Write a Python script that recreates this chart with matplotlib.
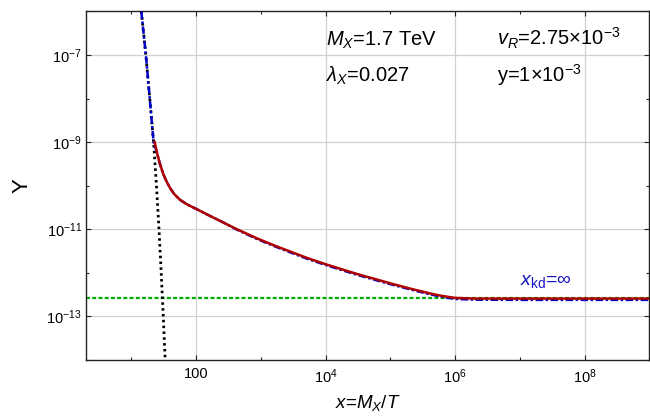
import math
import matplotlib
matplotlib.use('Agg')
import matplotlib.pyplot as plt
from matplotlib.ticker import FixedLocator, FuncFormatter, NullFormatter

plt.rcParams['font.family'] = ['Liberation Sans', 'DejaVu Sans']
plt.rcParams['mathtext.fontset'] = 'custom'
plt.rcParams['mathtext.rm'] = 'Liberation Sans'
plt.rcParams['mathtext.it'] = 'Liberation Sans:italic'
plt.rcParams['mathtext.bf'] = 'Liberation Sans:bold'

# equilibrium abundance (black dotted)
x_eq = [14.3, 16.8, 19.3, 22.1, 24.5, 26.8, 29.0, 31.2, 33.4]
Y_eq = [1e-6, 1e-7, 1e-8, 1e-9, 1e-10, 1e-11, 1e-12, 1e-13, 1e-14]

# full solution (red), starting after freeze-out
x_full = [23, 25, 27.5, 31, 35, 40, 46, 56, 71, 80, 100, 158, 257, 417, 851,
          1585, 2818, 5012, 1e4, 3e4, 1e5, 2e5, 4e5, 6.3e5, 1e6, 2e6, 1e7, 1e8, 1e9]
Y_full = [1.0e-9, 5.6e-10, 3.3e-10, 1.9e-10, 1.26e-10, 8.7e-11, 6.45e-11, 4.8e-11,
          3.8e-11, 3.47e-11, 2.95e-11, 2.09e-11, 1.46e-11, 1.02e-11, 6.3e-12,
          4.3e-12, 3.1e-12, 2.24e-12, 1.58e-12, 9.5e-13, 5.75e-13, 4.37e-13, 3.4e-13,
          2.95e-13, 2.66e-13, 2.57e-13, 2.57e-13, 2.57e-13, 2.57e-13]

# x_kd = infinity solution (blue dash-dot)
x_kd_inf = [14.3, 16.8, 19.3, 22.1, 23, 25, 27.5, 31, 35, 40, 46, 56, 71, 80, 100,
            158, 257, 417, 851, 1585, 2818, 5012, 1e4, 3e4, 1e5, 2e5, 4e5, 6.3e5,
            1e6, 2e6, 1e7, 1e8, 1e9]
Y_kd_inf = [1e-6, 1e-7, 1e-8, 1e-9, 8.5e-10, 5.6e-10, 3.3e-10, 1.9e-10, 1.26e-10,
            8.7e-11, 6.45e-11, 4.8e-11, 3.8e-11, 3.47e-11, 2.95e-11, 2.09e-11,
            1.46e-11, 1.0e-11, 6.1e-12, 4.15e-12, 2.98e-12, 2.15e-12, 1.52e-12,
            9.1e-13, 5.5e-13, 4.2e-13, 3.25e-13, 2.8e-13, 2.52e-13, 2.42e-13,
            2.4e-13, 2.4e-13, 2.4e-13]

# observed relic abundance (green)
Y_obs = 2.63e-13

x_major = [1e2, 1e4, 1e6, 1e8]
x_minor = [1e1, 1e3, 1e5, 1e7]
y_major = [1e-7, 1e-9, 1e-11, 1e-13]
y_minor = [1e-6, 1e-8, 1e-10, 1e-12, 1e-14]


def fmt_pow(v, pos):
    e = int(round(math.log10(v)))
    if e == 2:
        return '100'
    return r'$10^{%d}$' % e


fig = plt.figure(figsize=(6.5, 4.18), dpi=100)
ax = fig.add_axes([0.1323, 0.1388, 0.8668, 0.8337])
ax.set_xscale('log')
ax.set_yscale('log')

ax.axhline(Y_obs, color='#00b000', lw=1.6, dashes=(1.8, 1.0), zorder=2)
ax.plot(x_eq, Y_eq, color='black', lw=2.0, dashes=(0.9, 1.2), zorder=3)
ax.plot(x_kd_inf, Y_kd_inf, color='#0000c8', lw=1.8, dashes=(3.0, 1.0, 1.0, 1.0), zorder=4)
ax.plot(x_full, Y_full, color='#b00000', lw=1.8, zorder=5)

ax.set_xlim(2, 1e9)
ax.set_ylim(1e-14, 1e-6)

ax.xaxis.set_major_locator(FixedLocator(x_major))
ax.xaxis.set_minor_locator(FixedLocator(x_minor))
ax.yaxis.set_major_locator(FixedLocator(y_major))
ax.yaxis.set_minor_locator(FixedLocator(y_minor))
ax.xaxis.set_major_formatter(FuncFormatter(fmt_pow))
ax.yaxis.set_major_formatter(FuncFormatter(fmt_pow))
ax.xaxis.set_minor_formatter(NullFormatter())
ax.yaxis.set_minor_formatter(NullFormatter())

ax.tick_params(which='both', direction='in', top=True, right=True,
               colors='#222222', labelcolor='black', labelsize=10.5)
ax.tick_params(which='major', length=3.6, width=0.8)
ax.tick_params(which='minor', length=2.2, width=0.8)
ax.tick_params(axis='x', pad=5)
ax.tick_params(axis='y', pad=3)

ax.grid(True, which='major', color='#d0d0d0', lw=0.9, zorder=0)
for s in ax.spines.values():
    s.set_color('#222222')
    s.set_linewidth(1.0)

ax.set_xlabel(r'$x$=$M_X$/$T$', fontsize=13.5)
ax.set_ylabel('Y', fontsize=16)
ax.xaxis.set_label_coords(0.5, -0.095)
ax.yaxis.set_label_coords(-0.095, 0.5)

ax.text(0.4255, 0.902, r'$M_X$=1.7 TeV', transform=ax.transAxes, fontsize=14.5)
ax.text(0.4255, 0.7986, r'$\lambda_X$=0.027', transform=ax.transAxes, fontsize=14.5)
ax.text(0.730, 0.902, r'$v_R$=2.75×10$^{-3}$', transform=ax.transAxes, fontsize=14.5)
ax.text(0.730, 0.7986, r'y=1×10$^{-3}$', transform=ax.transAxes, fontsize=14.5)
ax.text(1e7, 5.2e-13, r'$x_{\mathrm{kd}}$=∞', color='#1515c0', fontsize=14)

fig.savefig('out.png', dpi=100)
